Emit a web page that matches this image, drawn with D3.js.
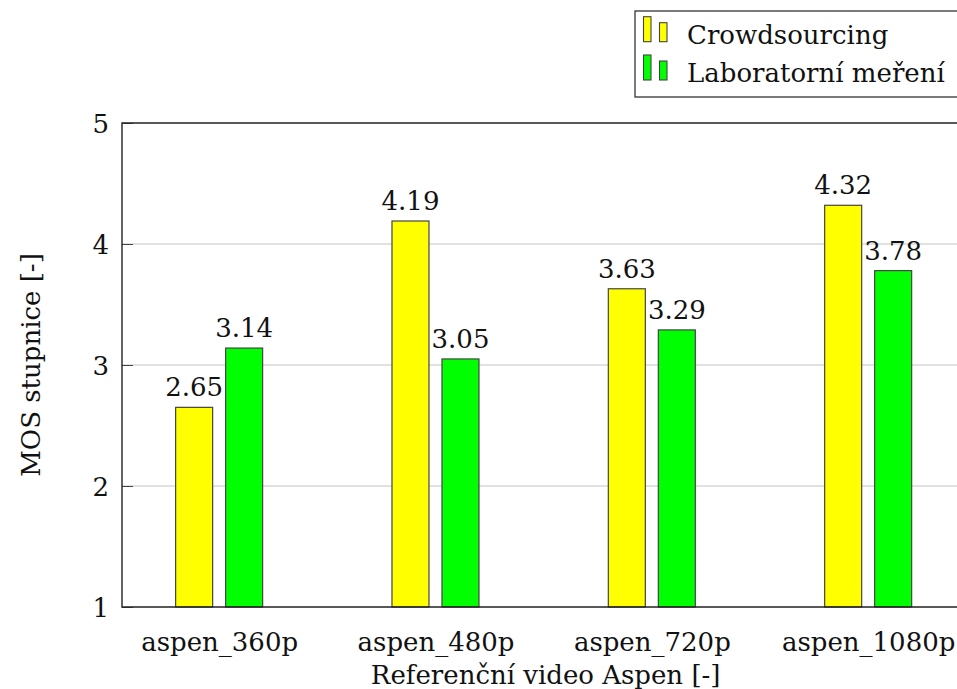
<!DOCTYPE html>
<html>
<head>
<meta charset="utf-8">
<script src="https://cdn.jsdelivr.net/npm/d3@7"></script>
<style>
  html, body { margin: 0; padding: 0; background: #fff; }
  svg { display: block; }
  text { font-family: "DejaVu Serif", serif; fill: #111; }
</style>
</head>
<body>
<svg id="chart" width="957" height="689"></svg>
<script>
const categories = ["aspen_360p", "aspen_480p", "aspen_720p", "aspen_1080p"];
const crowdsourcing = [2.65, 4.19, 3.63, 4.32];
const laboratory = [3.14, 3.05, 3.29, 3.78];
const seriesNames = ["Crowdsourcing", "Laboratorní meření"];
const seriesColors = ["#ffff00", "#00ff00"];
const yTicks = [1, 2, 3, 4, 5];
const xTitle = "Referenční video Aspen [-]";
const yTitle = "MOS stupnice [-]";

(function () {
const svg = d3.select("#chart");
const pl = 122, pr = 965.3, pt = 123, pb = 607;
const FS = 26;
const FF = "DejaVu Serif";

const x = d3.scalePoint().domain(categories).range([pl, pr]).padding(0.449);
const y = d3.scaleLinear().domain([1, 5]).range([pb, pt]);
const barW = 37, offset = 25;

// grid
svg.append("g")
  .selectAll("line")
  .data(yTicks.filter(d => d > 1 && d < 5))
  .join("line")
  .attr("x1", pl).attr("x2", 957)
  .attr("y1", d => y(d)).attr("y2", d => y(d))
  .attr("stroke", "#c4c4c4").attr("stroke-width", 1);

// bars
const series = [crowdsourcing, laboratory];
series.forEach((vals, si) => {
  const dx = si === 0 ? -offset : offset;
  const g = svg.append("g");
  g.selectAll("rect")
    .data(vals)
    .join("rect")
    .attr("x", (d, i) => x(categories[i]) + dx - barW / 2)
    .attr("y", d => y(d))
    .attr("width", barW)
    .attr("height", d => y(1) - y(d))
    .attr("fill", seriesColors[si])
    .attr("stroke", "#444")
    .attr("stroke-width", 1.2);
  g.selectAll("text")
    .data(vals)
    .join("text")
    .attr("x", (d, i) => x(categories[i]) + dx)
    .attr("y", d => y(d) - 11)
    .attr("text-anchor", "middle")
    .attr("font-size", FS)
    .text(d => d.toFixed(2));
});

// y axis
const yAxis = d3.axisLeft(y).tickValues(yTicks).tickSize(-11).tickPadding(13).tickFormat(d3.format("d"));
const gy = svg.append("g").attr("transform", `translate(${pl},0)`).call(yAxis);
gy.select(".domain").remove();
gy.selectAll(".tick line").attr("stroke", "#444").attr("stroke-width", 1);
gy.selectAll(".tick text").attr("font-size", FS).attr("font-family", FF).attr("fill", "#111").attr("dy", "0.36em");

// x axis
const xAxis = d3.axisBottom(x).tickSize(0).tickPadding(0);
const gx = svg.append("g").attr("transform", `translate(0,${pb})`).call(xAxis);
gx.select(".domain").remove();
gx.selectAll(".tick text").attr("font-size", FS).attr("font-family", FF).attr("fill", "#111").attr("dy", null).attr("y", 44);

// frame lines (left, top, bottom)
svg.append("path")
  .attr("d", `M957,${pt}H${pl}V${pb}H957`)
  .attr("fill", "none").attr("stroke", "#222").attr("stroke-width", 1.4);

// titles
svg.append("text")
  .attr("x", (pl + pr) / 2 + 2).attr("y", 684)
  .attr("text-anchor", "middle").attr("font-size", FS)
  .text(xTitle);
svg.append("text")
  .attr("transform", `translate(40,${(pt + pb) / 2}) rotate(-90)`)
  .attr("text-anchor", "middle").attr("font-size", FS)
  .text(yTitle);

// legend
const lg = svg.append("g");
lg.append("rect").attr("x", 635).attr("y", 11).attr("width", 340).attr("height", 86)
  .attr("fill", "#fff").attr("stroke", "#333").attr("stroke-width", 1.3);
seriesNames.forEach((name, i) => {
  const base = i === 0 ? 41.7 : 80;
  lg.append("rect").attr("x", 643.5).attr("y", base - 25).attr("width", 7.5).attr("height", 25)
    .attr("fill", seriesColors[i]).attr("stroke", "#444").attr("stroke-width", 1.1);
  lg.append("rect").attr("x", 659.5).attr("y", base - 19).attr("width", 7.5).attr("height", 19)
    .attr("fill", seriesColors[i]).attr("stroke", "#444").attr("stroke-width", 1.1);
  lg.append("text").attr("x", 687).attr("y", i === 0 ? 44.3 : 82.3)
    .attr("font-size", FS).text(name);
});
})();
</script>
</body>
</html>
